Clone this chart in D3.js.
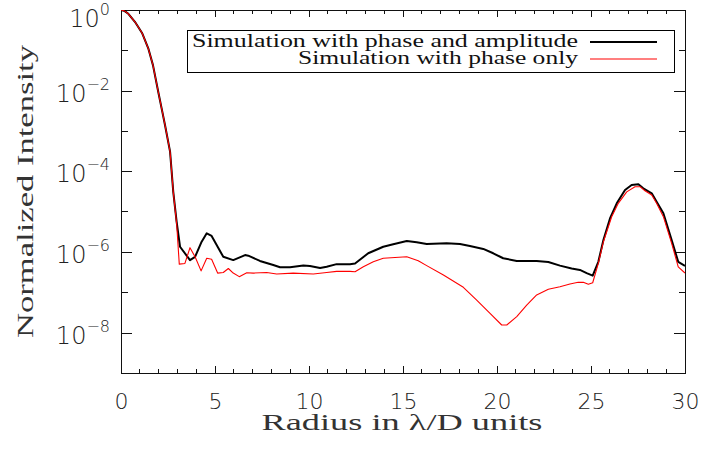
<!DOCTYPE html>
<html>
<head>
<meta charset="utf-8">
<script src="https://cdn.jsdelivr.net/npm/d3@7"></script>
<style>
  html, body { margin: 0; padding: 0; background: #fff; }
  svg { display: block; }
</style>
</head>
<body>
<svg id="chart" width="701" height="451"></svg>
<script>
// ---------------- data ----------------
const xAmpPhase = [0, 0.2, 0.37, 0.74, 1.12, 1.45, 1.70, 1.98, 2.18, 2.34, 2.61, 2.78, 2.96, 3.14, 3.67, 3.94, 4.29, 4.56, 4.82, 5.44, 5.97, 6.60, 6.77, 7.39, 8.10, 8.46, 8.99, 9.70, 10.05, 10.59, 10.94, 11.47, 12.18, 12.45, 13.15, 13.95, 14.48, 15.20, 15.73, 16.26, 17.32, 18.03, 18.56, 19.27, 19.80, 20.33, 21.05, 22.11, 22.73, 23.35, 23.97, 24.41, 24.77, 25.09, 25.39, 25.66, 26.01, 26.37, 26.81, 27.16, 27.52, 27.78, 28.23, 28.49, 28.85, 29.29, 29.64, 30.0];
const yAmpPhase = [1.0, 0.94, 0.82, 0.51, 0.27, 0.112, 0.043, 9.4e-3, 3.3e-3, 1.41e-3, 3.07e-4, 3.1e-5, 5.6e-6, 1.35e-6, 6.3e-7, 7.6e-7, 1.8e-6, 2.9e-6, 2.5e-6, 7.6e-7, 6.3e-7, 8.4e-7, 8.1e-7, 6.0e-7, 4.75e-7, 4.2e-7, 4.2e-7, 4.6e-7, 4.5e-7, 4.0e-7, 4.3e-7, 5.0e-7, 5.0e-7, 5.2e-7, 9.3e-7, 1.35e-6, 1.55e-6, 1.87e-6, 1.74e-6, 1.58e-6, 1.64e-6, 1.58e-6, 1.41e-6, 1.19e-6, 9.3e-7, 7.0e-7, 6.0e-7, 6.0e-7, 5.65e-7, 4.6e-7, 3.9e-7, 3.6e-7, 3.0e-7, 2.6e-7, 5.7e-7, 1.98e-6, 6.8e-6, 1.61e-5, 3.44e-5, 4.58e-5, 4.77e-5, 3.79e-5, 2.85e-5, 1.77e-5, 9.1e-6, 1.98e-6, 5.7e-7, 4.5e-7];

const xPhaseOnly = [0, 0.2, 0.37, 0.74, 1.12, 1.45, 1.70, 1.98, 2.18, 2.34, 2.61, 2.78, 2.96, 3.10, 3.40, 3.67, 3.94, 4.26, 4.56, 4.82, 5.14, 5.44, 5.71, 5.97, 6.29, 6.69, 7.04, 7.75, 8.28, 9.16, 10.23, 10.94, 11.47, 12.18, 12.45, 12.89, 13.42, 13.95, 15.20, 15.81, 16.26, 17.15, 18.21, 18.92, 19.63, 20.25, 20.52, 21.05, 21.58, 22.11, 22.73, 23.35, 23.88, 24.32, 24.59, 24.86, 25.09, 25.39, 25.66, 26.10, 26.45, 26.90, 27.34, 27.61, 27.87, 28.23, 28.49, 28.85, 29.29, 29.64, 30.0];
const yPhaseOnly = [1.0, 0.94, 0.82, 0.51, 0.27, 0.112, 0.043, 9.4e-3, 3.3e-3, 1.41e-3, 3.07e-4, 3.1e-5, 5.0e-6, 5.0e-7, 5.2e-7, 1.28e-6, 7.6e-7, 3.4e-7, 7.0e-7, 6.6e-7, 3.0e-7, 3.1e-7, 3.9e-7, 3.0e-7, 2.45e-7, 3.06e-7, 3.0e-7, 3.1e-7, 2.84e-7, 3.0e-7, 2.84e-7, 3.1e-7, 3.3e-7, 3.3e-7, 3.25e-7, 4.3e-7, 5.7e-7, 7.0e-7, 7.6e-7, 6.1e-7, 4.6e-7, 2.7e-7, 1.33e-7, 6.4e-8, 3.0e-8, 1.55e-8, 1.55e-8, 2.5e-8, 4.8e-8, 8.6e-8, 1.19e-7, 1.38e-7, 1.61e-7, 1.77e-7, 1.77e-7, 1.58e-7, 1.73e-7, 5.2e-7, 1.8e-6, 7.5e-6, 1.61e-5, 3.1e-5, 4.16e-5, 4.16e-5, 3.3e-5, 2.59e-5, 1.61e-5, 7.5e-6, 1.64e-6, 4.3e-7, 3.0e-7];

const seriesNames = ["Simulation with phase and amplitude", "Simulation with phase only"];
const seriesColors = ["#000000", "#ff0000"];

const xMajorTicks = [0, 5, 10, 15, 20, 25, 30];
const xMinorTicks = d3.range(0, 31, 1).filter(v => v % 5 !== 0);
const yMajorExps = [0, -2, -4, -6, -8];
const yMinorExps = [-1, -3, -5, -7];
const xTitle = "Radius in λ/D units";
const yTitle = "Normalized Intensity";

// ---------------- layout ----------------
const PL = 121, PR = 685, PT = 10, PB = 373;
const svg = d3.select("#chart");

const x = d3.scaleLinear().domain([0, 30]).range([PL, PR]);
const y = d3.scaleLog().domain([1e-9, 1]).range([PB, PT]);

svg.append("defs").append("clipPath").attr("id", "clip")
  .append("rect").attr("x", PL).attr("y", PT).attr("width", PR - PL).attr("height", PB - PT);

// ---------------- axes (IDL style, inward ticks) ----------------
const axisColor = "#111";
const gAx = svg.append("g").attr("shape-rendering", "crispEdges");

const axB = gAx.append("g").attr("transform", `translate(0,${PB})`)
  .call(d3.axisBottom(x).tickValues(xMajorTicks).tickSizeInner(-7).tickSizeOuter(0).tickFormat(d3.format("d")));
axB.selectAll(".tick line").attr("stroke", axisColor);
axB.select(".domain").attr("stroke", axisColor);
axB.selectAll(".tick text")
  .attr("y", 36).attr("dy", null)
  .attr("font-family", "DejaVu Sans").attr("font-weight", 200)
  .attr("font-size", 22).attr("fill", "#222");
axB.append("g").selectAll("line").data(xMinorTicks).join("line")
  .attr("x1", d => x(d)).attr("x2", d => x(d)).attr("y1", 0).attr("y2", -4)
  .attr("stroke", axisColor);

const axT = gAx.append("g").attr("transform", `translate(0,${PT})`)
  .call(d3.axisTop(x).tickValues(xMajorTicks).tickSizeInner(-7).tickSizeOuter(0).tickFormat(""));
axT.selectAll(".tick line").attr("stroke", axisColor);
axT.select(".domain").attr("stroke", axisColor);
axT.append("g").selectAll("line").data(xMinorTicks).join("line")
  .attr("x1", d => x(d)).attr("x2", d => x(d)).attr("y1", 0).attr("y2", 4)
  .attr("stroke", axisColor);

const yMajorVals = yMajorExps.map(e => Math.pow(10, e));
const yMinorVals = yMinorExps.map(e => Math.pow(10, e));
const axL = gAx.append("g").attr("transform", `translate(${PL},0)`)
  .call(d3.axisLeft(y).tickValues(yMajorVals).tickSizeInner(-11).tickSizeOuter(0).tickFormat(""));
axL.selectAll(".tick line").attr("stroke", axisColor);
axL.select(".domain").attr("stroke", axisColor);
axL.append("g").selectAll("line").data(yMinorVals).join("line")
  .attr("x1", 0).attr("x2", 7).attr("y1", d => y(d)).attr("y2", d => y(d))
  .attr("stroke", axisColor);

const axR = gAx.append("g").attr("transform", `translate(${PR},0)`)
  .call(d3.axisRight(y).tickValues(yMajorVals).tickSizeInner(-11).tickSizeOuter(0).tickFormat(""));
axR.selectAll(".tick line").attr("stroke", axisColor);
axR.select(".domain").attr("stroke", axisColor);
axR.append("g").selectAll("line").data(yMinorVals).join("line")
  .attr("x1", 0).attr("x2", -6).attr("y1", d => y(d)).attr("y2", d => y(d))
  .attr("stroke", axisColor);

// y tick labels: 10^e
const yLab = svg.append("g");
yMajorExps.forEach(e => {
  const ty = y(Math.pow(10, e));
  const base = Math.max(ty + 11, PT + 17);
  const t = yLab.append("text")
    .attr("x", PL - 11).attr("y", base)
    .attr("text-anchor", "end")
    .attr("font-family", "DejaVu Sans").attr("font-weight", 200)
    .attr("fill", "#222");
  t.append("tspan").attr("font-size", 24).text("10");
  t.append("tspan").attr("font-size", 16).attr("dy", -12)
    .text(e === 0 ? "0" : "\u2212" + Math.abs(e));
});

// ---------------- lines ----------------
const line = d3.line().x(d => x(d[0])).y(d => y(d[1]));
const gLines = svg.append("g").attr("clip-path", "url(#clip)");
gLines.append("path")
  .datum(d3.zip(xAmpPhase, yAmpPhase))
  .attr("d", line).attr("fill", "none")
  .attr("stroke", seriesColors[0]).attr("stroke-width", 2).attr("stroke-linejoin", "round");
gLines.append("path")
  .datum(d3.zip(xPhaseOnly, yPhaseOnly))
  .attr("d", line).attr("fill", "none")
  .attr("stroke", seriesColors[1]).attr("stroke-width", 1.1).attr("stroke-linejoin", "round");

// ---------------- legend ----------------
const lg = svg.append("g");
lg.append("rect").attr("x", 187.5).attr("y", 30.5).attr("width", 487).attr("height", 42)
  .attr("fill", "#fff").attr("stroke", "#000").attr("stroke-width", 1);
const legendRows = [
  { name: seriesNames[0], color: seriesColors[0], w: 2, len: 386, ty: 47, ly: 42 },
  { name: seriesNames[1], color: seriesColors[1], w: 1.1, len: 280, ty: 64, ly: 59 }
];
legendRows.forEach(r => {
  lg.append("text").attr("x", 578).attr("y", r.ty).attr("text-anchor", "end")
    .attr("font-family", "Liberation Serif").attr("font-size", 18).attr("fill", "#111")
    .attr("textLength", r.len).attr("lengthAdjust", "spacingAndGlyphs")
    .text(r.name);
  lg.append("line").attr("x1", 590).attr("x2", 657).attr("y1", r.ly).attr("y2", r.ly)
    .attr("stroke", r.color).attr("stroke-width", r.w);
});

// ---------------- titles ----------------
svg.append("text").attr("x", 402).attr("y", 430).attr("text-anchor", "middle")
  .attr("font-family", "Liberation Serif").attr("font-size", 23).attr("fill", "#333")
  .attr("textLength", 281).attr("lengthAdjust", "spacingAndGlyphs")
  .text(xTitle);
svg.append("text").attr("transform", "translate(33,191.5) rotate(-90)")
  .attr("text-anchor", "middle")
  .attr("font-family", "Liberation Serif").attr("font-size", 24).attr("fill", "#333")
  .attr("textLength", 293).attr("lengthAdjust", "spacingAndGlyphs")
  .text(yTitle);
</script>
</body>
</html>
